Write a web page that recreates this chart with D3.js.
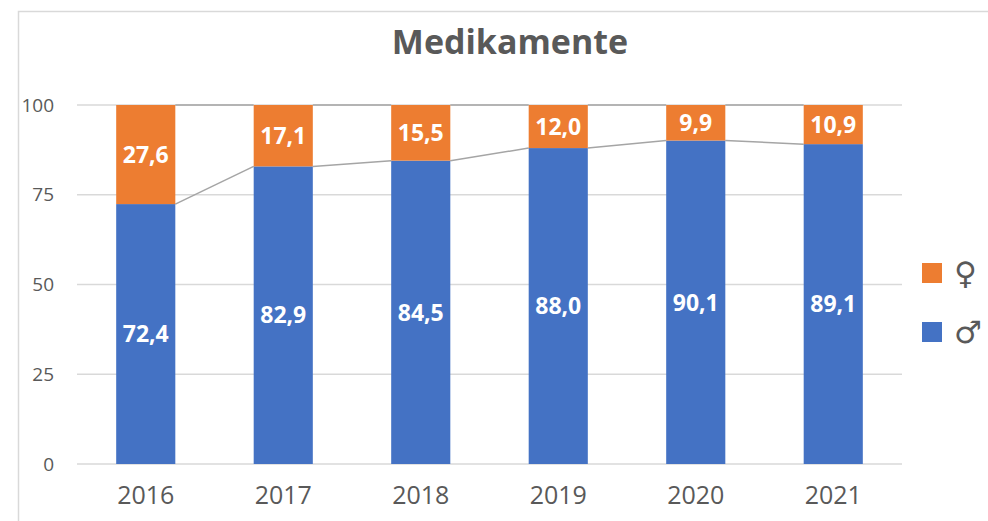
<!DOCTYPE html>
<html>
<head>
<meta charset="utf-8">
<script src="https://cdn.jsdelivr.net/npm/d3@7"></script>
<style>
  body { margin: 0; background: #fff; }
  svg { display: block; font-family: "Open Sans", "Liberation Sans", sans-serif; }
</style>
</head>
<body>
<div id="chart"></div>
<script>
// Chart data
var years = ["2016", "2017", "2018", "2019", "2020", "2021"];
var male = [72.4, 82.9, 84.5, 88.0, 90.1, 89.1];
var female = [27.6, 17.1, 15.5, 12.0, 9.9, 10.9];
var yTicks = [0, 25, 50, 75, 100];

var svgWidth = 988;
var svgHeight = 521;
var plot = { left: 77, right: 902, top: 105, bottom: 464 };

var svg = d3.select("#chart")
    .append("svg")
    .attr("width", svgWidth)
    .attr("height", svgHeight);

// chart border (cropped at right and bottom)
svg.append("rect")
    .attr("x", 18.5)
    .attr("y", 11.5)
    .attr("width", 1000)
    .attr("height", 600)
    .attr("fill", "none")
    .attr("stroke", "#d9d9d9")
    .attr("stroke-width", 1.5);

var x = d3.scaleBand()
    .domain(years)
    .range([plot.left, plot.right])
    .paddingInner(0.57)
    .paddingOuter(0.285);

var y = d3.scaleLinear()
    .domain([0, 100])
    .range([plot.bottom, plot.top]);

// gridlines
svg.append("g")
    .selectAll("line")
    .data(yTicks)
    .enter()
    .append("line")
    .attr("x1", plot.left)
    .attr("x2", plot.right)
    .attr("y1", d => y(d))
    .attr("y2", d => y(d))
    .attr("stroke", "#d9d9d9")
    .attr("stroke-width", 1.5);

// y axis labels
var leftAxis = d3.axisLeft(y).tickValues(yTicks).tickSize(0).tickPadding(0);
svg.append("g")
    .attr("transform", "translate(54,0)")
    .call(leftAxis)
    .attr("font-family", null)
    .attr("font-size", null)
    .call(g => g.select(".domain").remove())
    .selectAll("text")
    .attr("fill", "#595959")
    .style("font-size", "19px");

// x axis labels
var bottomAxis = d3.axisBottom(x).tickSize(0).tickPadding(0);
svg.append("g")
    .attr("transform", "translate(0,486)")
    .call(bottomAxis)
    .attr("font-family", null)
    .attr("font-size", null)
    .call(g => g.select(".domain").remove())
    .selectAll("text")
    .attr("fill", "#595959")
    .style("font-size", "25px");

var rows = years.map((yr, i) => ({ year: yr, m: male[i], f: female[i] }));

// series lines between bars
var sl = svg.append("g");
for (var i = 0; i < rows.length - 1; i++) {
    var x1 = x(rows[i].year) + x.bandwidth();
    var x2 = x(rows[i + 1].year);
    sl.append("line")
        .attr("x1", x1).attr("x2", x2)
        .attr("y1", y(rows[i].m)).attr("y2", y(rows[i + 1].m))
        .attr("stroke", "#a5a5a5").attr("stroke-width", 1.5);
    sl.append("line")
        .attr("x1", x1).attr("x2", x2)
        .attr("y1", y(rows[i].m + rows[i].f)).attr("y2", y(rows[i + 1].m + rows[i + 1].f))
        .attr("stroke", "#a5a5a5").attr("stroke-width", 1.5);
}

// blue bars (male)
svg.append("g")
    .selectAll("rect")
    .data(rows)
    .enter()
    .append("rect")
    .attr("x", d => x(d.year))
    .attr("y", d => y(d.m))
    .attr("width", x.bandwidth())
    .attr("height", d => y(0) - y(d.m))
    .attr("fill", "#4472c4");

// orange bars (female)
svg.append("g")
    .selectAll("rect")
    .data(rows)
    .enter()
    .append("rect")
    .attr("x", d => x(d.year))
    .attr("y", d => y(d.m + d.f))
    .attr("width", x.bandwidth())
    .attr("height", d => y(d.m) - y(d.m + d.f))
    .attr("fill", "#ed7d31");

var fmt = v => v.toFixed(1).replace(".", ",");

// data labels
var labels = svg.append("g")
    .attr("fill", "#fff")
    .style("font-size", "23px")
    .style("font-weight", "bold")
    .attr("text-anchor", "middle");
labels.selectAll(".lm")
    .data(rows)
    .enter()
    .append("text")
    .attr("x", d => x(d.year) + x.bandwidth() / 2)
    .attr("y", d => y(d.m / 2))
    .attr("dy", "0.36em")
    .text(d => fmt(d.m));
labels.selectAll(".lf")
    .data(rows)
    .enter()
    .append("text")
    .attr("x", d => x(d.year) + x.bandwidth() / 2)
    .attr("y", d => y(d.m + d.f / 2))
    .attr("dy", "0.36em")
    .text(d => fmt(d.f));

// title
svg.append("text")
    .attr("x", 510)
    .attr("y", 54)
    .attr("text-anchor", "middle")
    .attr("fill", "#595959")
    .style("font-size", "34px")
    .style("font-weight", "bold")
    .text("Medikamente");

// legend
var legendItems = [
    { sym: "\u2640", color: "#ed7d31", y: 263 },
    { sym: "\u2642", color: "#4472c4", y: 322 }
];
var lg = svg.append("g");
lg.selectAll("rect")
    .data(legendItems)
    .enter()
    .append("rect")
    .attr("x", 922)
    .attr("y", d => d.y)
    .attr("width", 20)
    .attr("height", 20)
    .attr("fill", d => d.color);
lg.selectAll("text")
    .data(legendItems)
    .enter()
    .append("text")
    .attr("x", 954)
    .attr("y", d => d.y + 10)
    .attr("dy", "0.36em")
    .attr("fill", "#595959")
    .style("font-family", "'DejaVu Sans', sans-serif")
    .style("font-size", "31px")
    .text(d => d.sym);
</script>
</body>
</html>
